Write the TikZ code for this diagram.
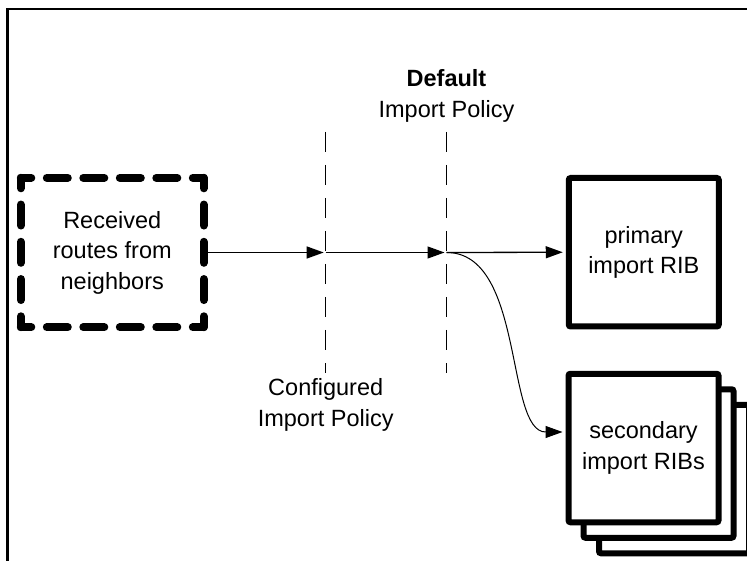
\documentclass[tikz,border=0pt]{standalone}
\usepackage{fontspec}
\setmainfont{Liberation Sans}
\usetikzlibrary{arrows.meta}

\begin{document}
\begin{tikzpicture}[x=1pt,y=-1pt,
  txt/.style={font=\fontsize{23.5}{30.5}\selectfont, align=center, inner sep=0pt},
  rib/.style={draw, line width=6pt, fill=white, rounded corners=2pt,
              minimum width=150pt, minimum height=148.5pt, inner sep=0pt},
  sidedash/.style={line width=8pt, line cap=round,
                   dash pattern=on 21pt off #1, dash phase=10.5pt},
  policyline/.style={line width=1.3pt, dash pattern=on 20pt off 13pt},
  flow/.style={line width=1.3pt, -{Triangle[length=17pt,width=12pt]}},
  frame/.style={line width=2.5pt}]

% canvas
\fill[white] (0,0) rectangle (747,561);
\useasboundingbox (0,0) rectangle (747,561);
\clip (0,0) rectangle (747,561);

% outer frame (open to the right and bottom)
\coordinate (frameA) at (7.5,600);
\coordinate (frameB) at (7.5,9);
\coordinate (frameC) at (800,9);
\draw[frame] (frameA) -- (frameB) -- (frameC);

% source box with heavy dashed border
\node[txt, minimum width=182.5pt, minimum height=149pt] (recv) at (112.25,252.5)
  {Received\\routes from\\neighbors};
\draw[sidedash=15.5pt]  (recv.north west) -- (recv.north east);
\draw[sidedash=15.5pt]  (recv.south west) -- (recv.south east);
\draw[sidedash=16.25pt] (recv.north west) -- (recv.south west);
\draw[sidedash=16.25pt] (recv.north east) -- (recv.south east);

% policy boundaries
\coordinate (cfgtop) at (325.7,132);
\coordinate (cfgbot) at (325.7,373);
\coordinate (deftop) at (446.5,132);
\coordinate (defbot) at (446.5,373);
\coordinate (cfgx) at (325.7,252.5);
\coordinate (defx) at (446.5,252.5);
\draw[policyline] (cfgtop) -- (cfgbot);
\draw[policyline] (deftop) -- (defbot);

\node[txt] (deflbl) at (446.5,96) {\textbf{Default}\\Import Policy};
\node[txt] (cfglbl) at (325.7,405) {Configured\\Import Policy};

% destination RIBs
\node[rib] (sec3) at (674,479) {};
\node[rib] (sec2) at (658.5,463.5) {};
\node[rib, txt] (sec) at (643.5,448) {secondary\\import RIBs};
\node[rib, txt] (prim) at (643.75,252.25) {primary\\import RIB};

% route flow
\draw[flow] (recv.east) -- ([xshift=-2pt]cfgx);
\draw[flow] (cfgx) -- ([xshift=-2pt]defx);
\draw[flow, shorten >=3pt] (defx) -- (prim.west);
\draw[flow, line width=1pt, shorten >=3pt]
  (defx) .. controls (525,252.5) and (505,432) .. ([yshift=16pt]sec.west);
\end{tikzpicture}
\end{document}
